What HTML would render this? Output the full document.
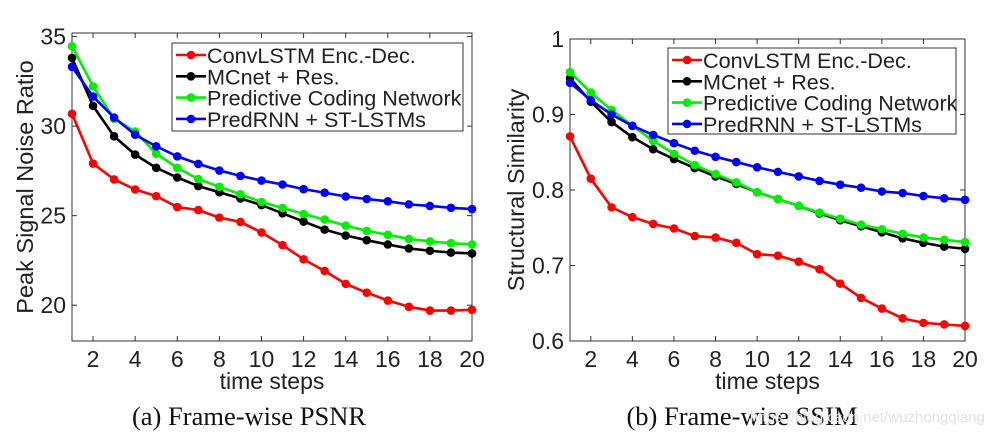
<!DOCTYPE html>
<html><head><meta charset="utf-8"><style>
body{margin:0;background:#fff}
svg{display:block;font-family:"Liberation Sans",sans-serif}
</style></head><body>
<svg id="fig" width="989" height="436" viewBox="0 0 989 436" xmlns="http://www.w3.org/2000/svg"></svg>
<script>
const steps = [1,2,3,4,5,6,7,8,9,10,11,12,13,14,15,16,17,18,19,20];
const seriesNames = ["ConvLSTM Enc.-Dec.","MCnet + Res.","Predictive Coding Network","PredRNN + ST-LSTMs"];
const seriesColors = ["#ff0000","#000000","#00ee00","#0000ff"];
const psnrConv = [30.69,27.91,27.02,26.46,26.09,25.48,25.31,24.89,24.65,24.06,23.35,22.56,21.91,21.19,20.70,20.26,19.91,19.70,19.70,19.74];
const psnrMC = [33.81,31.13,29.43,28.41,27.67,27.13,26.65,26.31,25.96,25.59,25.13,24.67,24.22,23.89,23.63,23.39,23.17,23.04,22.94,22.89];
const psnrPCN = [34.46,32.22,30.41,29.70,28.46,27.67,27.04,26.61,26.19,25.76,25.43,25.09,24.78,24.44,24.15,23.93,23.70,23.56,23.46,23.39];
const psnrPred = [33.31,31.65,30.48,29.52,28.87,28.31,27.89,27.52,27.22,26.96,26.74,26.48,26.28,26.07,25.93,25.80,25.63,25.54,25.44,25.37];
const ssimConv = [0.871,0.815,0.777,0.764,0.755,0.749,0.739,0.737,0.730,0.715,0.713,0.705,0.695,0.676,0.657,0.643,0.630,0.624,0.622,0.620];
const ssimMC = [0.948,0.917,0.890,0.870,0.854,0.841,0.829,0.818,0.808,0.797,0.788,0.779,0.769,0.760,0.752,0.744,0.736,0.730,0.725,0.722];
const ssimPCN = [0.956,0.929,0.906,0.885,0.865,0.848,0.833,0.821,0.810,0.797,0.788,0.779,0.770,0.762,0.754,0.748,0.742,0.737,0.734,0.731];
const ssimPred = [0.942,0.919,0.900,0.885,0.873,0.862,0.852,0.844,0.837,0.830,0.824,0.818,0.812,0.807,0.803,0.798,0.796,0.792,0.789,0.787];
const xTicks = [2,4,6,8,10,12,14,16,18,20];
const psnrTicks = [20,25,30,35];
const psnrTickLabels = ["20","25","30","35"];
const ssimTicks = [0.6,0.7,0.8,0.9,1];
const ssimTickLabels = ["0.6","0.7","0.8","0.9","1"];

const NS="http://www.w3.org/2000/svg";
const svg=document.getElementById('fig');
function mk(tag,attrs,parent){const e=document.createElementNS(NS,tag);for(const k in attrs)e.setAttribute(k,attrs[k]);(parent||svg).appendChild(e);return e;}

function panel(p){
  const g=mk('g',{});
  
  
  const xs=v=>p.x0+(v-1)/(19)*(p.x1-p.x0);
  const ys=v=>p.yb-(v-p.ymin)/(p.ymax-p.ymin)*(p.yb-p.yt);
  const box=mk('rect',{x:p.x0,y:p.yt,width:p.x1-p.x0,height:p.yb-p.yt,fill:'none',stroke:'#333','stroke-width':1},g);
  
  
  xTicks.forEach(t=>{
    const x=xs(t);
    mk('line',{x1:x,x2:x,y1:p.yb,y2:p.yb-5,stroke:'#333'},g);
    mk('line',{x1:x,x2:x,y1:p.yt,y2:p.yt+5,stroke:'#333'},g);
    const tx=mk('text',{x:x,y:p.yb+26,'text-anchor':'middle','font-size':23,fill:'#222'},g);
    tx.textContent=t;
    
    
  });
  p.ticks.forEach((t,i)=>{
    const y=ys(t);
    mk('line',{x1:p.x0,x2:p.x0+5,y1:y,y2:y,stroke:'#333'},g);
    mk('line',{x1:p.x1,x2:p.x1-5,y1:y,y2:y,stroke:'#333'},g);
    const tx=mk('text',{x:p.x0-6,y:y+8,'text-anchor':'end','font-size':23,fill:'#222'},g);
    tx.textContent=p.tickLabels[i];
    
    
  });
  const xt=mk('text',{x:(p.x0+p.x1)/2,y:p.yb+48,'text-anchor':'middle','font-size':23,fill:'#222'},g);
  xt.textContent='time steps';
  
  
  const yt=mk('text',{x:0,y:0,'text-anchor':'middle','font-size':23.5,fill:'#222',transform:`translate(${p.ytx},${p.yty}) rotate(-90)`},g);
  yt.textContent=p.ytitle;
  
  
  p.series.forEach((d,si)=>{
    const c=seriesColors[si];
    const pl=mk('polyline',{points:d.map((v,i)=>xs(steps[i])+','+ys(v)).join(' '),fill:'none',stroke:c,'stroke-width':2.6,'stroke-linejoin':'round'},g);
    
    
    d.forEach((v,i)=>{
      const m=mk('circle',{cx:xs(steps[i]),cy:ys(v),r:4.3,fill:c},g);
      
      
    });
  });
  const L=p.leg;
  const lg=mk('g',{},g);
  
  
  mk('rect',{x:L.x,y:L.y,width:L.w,height:L.h,fill:'#fff',stroke:'#333'},lg);
  seriesNames.forEach((n,i)=>{
    const yy=L.y+12+i*21.3;
    const le=mk('g',{},lg);
    
    
    mk('line',{x1:L.x+4,x2:L.x+34,y1:yy,y2:yy,stroke:seriesColors[i],'stroke-width':2.6},le);
    mk('circle',{cx:L.x+19,cy:yy,r:4.3,fill:seriesColors[i]},le);
    const t=mk('text',{x:L.x+35,y:yy+8,'font-size':21.6,fill:'#222'},le);
    t.textContent=n;
  });
  const cap=mk('text',{x:p.capx,y:425,'text-anchor':'middle','font-size':26.5,fill:'#111','font-family':'"Liberation Serif",serif'},g);
  cap.textContent=p.caption;
  
  
}

panel({name:'psnr-chart',x0:72,x1:472,yt:33,yb:341,ymin:18,ymax:35.2,ticks:psnrTicks,tickLabels:psnrTickLabels,
  series:[psnrConv,psnrMC,psnrPCN,psnrPred],ytitle:'Peak Signal Noise Ratio',ytx:33,yty:187,
  leg:{x:172,y:43,w:291,h:88},caption:'(a)  Frame-wise PSNR',capx:249});
panel({name:'ssim-chart',x0:570,x1:965,yt:39,yb:341,ymin:0.6,ymax:1,ticks:ssimTicks,tickLabels:ssimTickLabels,
  series:[ssimConv,ssimMC,ssimPCN,ssimPred],ytitle:'Structural Similarity',ytx:524,yty:190,
  leg:{x:668,y:48,w:288,h:86},caption:'(b)  Frame-wise SSIM',capx:742});
const wm=mk('text',{x:985,y:422,'text-anchor':'end','font-size':15,fill:'#e2e2e2'});
wm.textContent='https://blog.csdn.net/wuzhongqiang';


</script>
</body></html>
